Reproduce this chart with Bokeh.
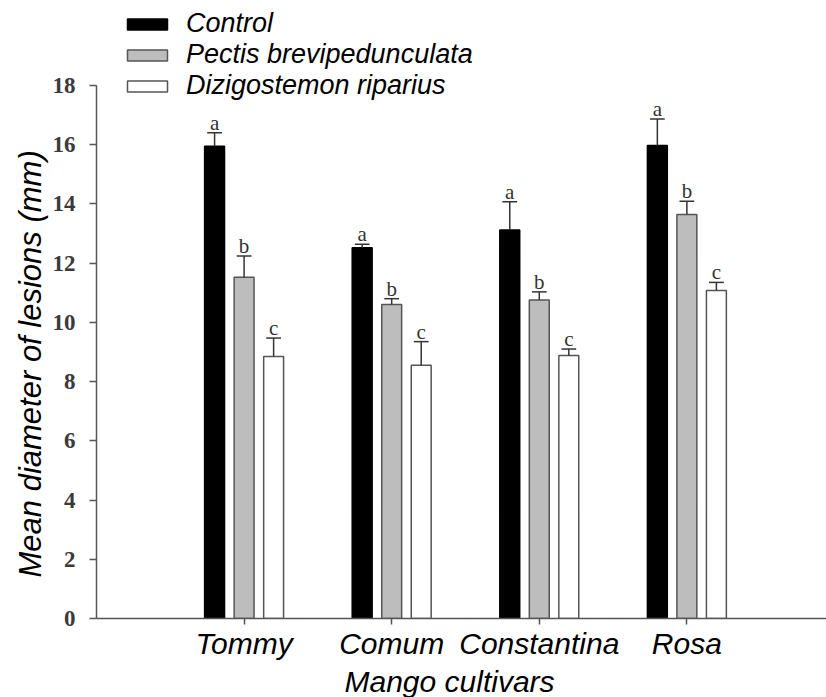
from bokeh.plotting import figure
from bokeh.models import Range1d, FixedTicker, Legend, LegendItem, Title
from bokeh.embed import file_html
from bokeh.resources import INLINE
from bokeh.core.properties import value

# ---- data ----
cultivars = ["Tommy", "Comum", "Constantina", "Rosa"]
series_names = ["Control", "Pectis brevipedunculata", "Dizigostemon riparius"]
control = [15.95, 12.52, 13.12, 15.97]
control_err = [0.45, 0.12, 0.95, 0.90]
pectis = [11.52, 10.60, 10.76, 13.64]
pectis_err = [0.72, 0.20, 0.27, 0.45]
dizig = [8.85, 8.55, 8.88, 11.08]
dizig_err = [0.62, 0.80, 0.22, 0.27]
letters = ["a", "b", "c"]
y_ticks = [0, 2, 4, 6, 8, 10, 12, 14, 16, 18]

values = [control, pectis, dizig]
errors = [control_err, pectis_err, dizig_err]
fills = ["#000000", "#bdbdbd", "#ffffff"]
outlines = ["#000000", "#555555", "#555555"]
offsets = [-0.2, 0.0, 0.2]
bar_w = 0.135
cap_w = 0.10

p = figure(width=826, height=697, x_range=Range1d(0, 4.946), y_range=Range1d(0, 20.87),
           output_backend="svg", toolbar_location=None,
           min_border_left=96, min_border_right=0, min_border_top=0, min_border_bottom=79)
p.grid.visible = False
p.outline_line_color = None

# x axis
p.xaxis.ticker = FixedTicker(ticks=[i + 1 for i in range(len(cultivars))])
p.xaxis.major_label_overrides = {i + 1: c for i, c in enumerate(cultivars)}
p.xaxis.minor_tick_line_color = None
p.xaxis.major_tick_in = 0
p.xaxis.major_tick_out = 6
p.xaxis.axis_line_color = "#555555"
p.xaxis.axis_line_width = 1.5
p.xaxis.major_tick_line_color = "#555555"
p.xaxis.major_tick_line_width = 1.5
p.xaxis.major_label_text_font = "Liberation Sans"
p.xaxis.major_label_text_font_style = "italic"
p.xaxis.major_label_text_font_size = "30px"
p.xaxis.major_label_text_color = "#000000"
p.xaxis.major_label_standoff = 2

# y axis
p.yaxis.ticker = FixedTicker(ticks=y_ticks)
p.yaxis.bounds = (0, 18)
p.yaxis.minor_tick_line_color = None
p.yaxis.major_tick_in = 0
p.yaxis.major_tick_out = 7
p.yaxis.axis_line_color = "#555555"
p.yaxis.axis_line_width = 1.5
p.yaxis.major_tick_line_color = "#555555"
p.yaxis.major_tick_line_width = 1.5
p.yaxis.major_label_text_font = "Liberation Serif"
p.yaxis.major_label_text_font_style = "bold"
p.yaxis.major_label_text_font_size = "23px"
p.yaxis.major_label_text_color = "#3a3a3a"
p.yaxis.major_label_standoff = 14

renderers = []
for i in range(3):
    xs = [k + 1 + offsets[i] for k in range(len(cultivars))]
    vals = values[i]
    tops = [v + e for v, e in zip(vals, errors[i])]
    r = p.vbar(x=xs, top=vals, bottom=0, width=bar_w, fill_color=fills[i],
               line_color=outlines[i], line_width=1.5)
    renderers.append(r)
    p.segment(x0=xs, y0=vals, x1=xs, y1=tops, line_color="#333333", line_width=1.5)
    p.segment(x0=[x - cap_w / 2 for x in xs], y0=tops, x1=[x + cap_w / 2 for x in xs], y1=tops,
              line_color="#333333", line_width=1.5)
    p.text(x=xs, y=tops, text=[letters[i]] * len(xs), text_align="center",
           text_baseline="alphabetic", y_offset=-10, text_font=value("Liberation Serif"),
           text_font_size="21px", text_color="#333333")

legend = Legend(items=[LegendItem(label=n, renderers=[r]) for n, r in zip(series_names, renderers)],
                location=(26, 517), orientation="vertical")
legend.border_line_color = None
legend.background_fill_alpha = 0
legend.padding = 0
legend.margin = 0
legend.spacing = 0
legend.glyph_width = 50
legend.glyph_height = 14
legend.label_height = 14
legend.label_standoff = 14
legend.label_text_font = "Liberation Sans"
legend.label_text_font_style = "italic"
legend.label_text_font_size = "27px"
legend.label_text_line_height = 0.85
legend.label_text_color = "#000000"
p.add_layout(legend)

p.add_layout(Title(text="Mean diameter of lesions (mm)", align="left", offset=41,
                   text_font="Liberation Sans", text_font_style="italic",
                   text_font_size="31px", text_color="#000000", standoff=4), "left")
p.add_layout(Title(text="Mango cultivars", align="left", offset=248,
                   text_font="Liberation Sans", text_font_style="italic",
                   text_font_size="30px", text_color="#000000", standoff=0), "below")

open("out.html", "w").write(file_html(p, INLINE))
